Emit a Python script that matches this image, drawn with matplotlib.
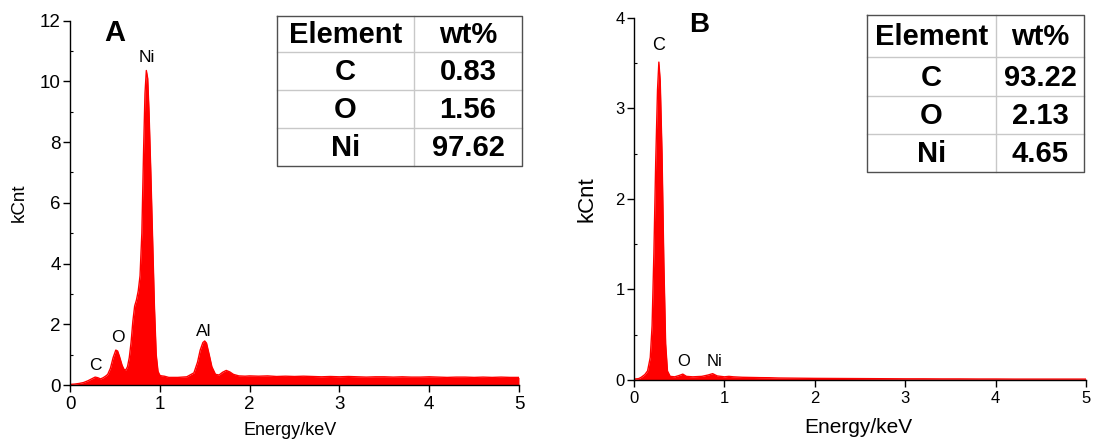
import matplotlib
matplotlib.use('Agg')
import matplotlib.pyplot as plt
from matplotlib.ticker import MultipleLocator

plt.rcParams['font.family'] = ['Liberation Sans', 'DejaVu Sans']

# spectrum A (keV, kCnt)
energy_a = [0.00, 0.05, 0.10, 0.15, 0.20, 0.24, 0.28, 0.31, 0.34, 0.37, 0.40,
            0.42, 0.45, 0.48, 0.51, 0.53, 0.55, 0.58, 0.60, 0.62, 0.64, 0.66,
            0.68, 0.70, 0.72, 0.74, 0.76, 0.78, 0.80, 0.82, 0.835, 0.85, 0.865,
            0.88, 0.90, 0.92, 0.94, 0.96, 0.98, 1.00, 1.02, 1.05, 1.10, 1.20,
            1.30, 1.38, 1.42, 1.45, 1.48, 1.50, 1.52, 1.55, 1.58, 1.62, 1.66,
            1.70, 1.74, 1.78, 1.82, 1.88, 1.95, 2.0, 2.1, 2.2, 2.3, 2.4, 2.5,
            2.6, 2.7, 2.8, 2.9, 3.0, 3.1, 3.2, 3.3, 3.4, 3.5, 3.6, 3.7, 3.8,
            3.9, 4.0, 4.1, 4.2, 4.3, 4.4, 4.5, 4.6, 4.7, 4.8, 4.9, 5.0]
counts_a = [0.02, 0.03, 0.05, 0.08, 0.14, 0.20, 0.26, 0.24, 0.20, 0.24, 0.30,
            0.35, 0.55, 0.90, 1.15, 1.12, 0.95, 0.65, 0.52, 0.49, 0.60, 0.90,
            1.40, 2.10, 2.60, 2.80, 3.10, 3.60, 5.00, 7.80, 9.60, 10.36, 10.10,
            9.00, 7.00, 4.80, 2.60, 1.00, 0.45, 0.32, 0.30, 0.29, 0.25, 0.25,
            0.27, 0.40, 0.75, 1.15, 1.40, 1.45, 1.38, 1.00, 0.60, 0.35, 0.33,
            0.42, 0.48, 0.43, 0.35, 0.30, 0.29, 0.30, 0.29, 0.30, 0.28, 0.29,
            0.28, 0.29, 0.28, 0.27, 0.28, 0.27, 0.28, 0.27, 0.26, 0.27, 0.27,
            0.26, 0.27, 0.26, 0.26, 0.27, 0.26, 0.25, 0.26, 0.26, 0.25, 0.26,
            0.25, 0.26, 0.25, 0.25]

# spectrum B (keV, kCnt)
energy_b = [0.00, 0.05, 0.08, 0.12, 0.15, 0.18, 0.20, 0.22, 0.24, 0.26, 0.275,
            0.29, 0.31, 0.33, 0.35, 0.37, 0.40, 0.45, 0.50, 0.54, 0.58, 0.65,
            0.75, 0.82, 0.87, 0.92, 1.00, 1.05, 1.10, 1.20, 1.30, 1.40, 1.50,
            1.60, 1.80, 2.00, 2.20, 2.40, 2.60, 2.80, 3.00, 3.20, 3.40, 3.60,
            3.80, 4.00, 4.20, 4.40, 4.60, 4.80, 5.00]
counts_b = [0.010, 0.015, 0.030, 0.060, 0.100, 0.250, 0.600, 1.400, 2.400,
            3.200, 3.510, 3.300, 2.500, 1.300, 0.400, 0.100, 0.040, 0.035,
            0.050, 0.065, 0.040, 0.035, 0.040, 0.055, 0.070, 0.045, 0.035,
            0.040, 0.035, 0.030, 0.028, 0.026, 0.025, 0.022, 0.020, 0.018,
            0.017, 0.016, 0.015, 0.014, 0.013, 0.013, 0.012, 0.012, 0.011,
            0.011, 0.010, 0.010, 0.010, 0.010, 0.010]

# EDS tables
elements = ['C', 'O', 'Ni']
wt_a = ['0.83', '1.56', '97.62']
wt_b = ['93.22', '2.13', '4.65']

fig = plt.figure(figsize=(10.94, 4.40), dpi=100)
W, H = 1094.0, 440.0

ax1 = fig.add_axes([70 / W, 1 - 385 / H, 449 / W, (385 - 20.7) / H])
ax2 = fig.add_axes([634 / W, 1 - 380 / H, 452 / W, (380 - 17.7) / H])


def style_axis(ax, ymax, ystep, tick_fs):
    ax.set_xlim(0, 5)
    ax.set_ylim(0, ymax)
    ax.xaxis.set_major_locator(MultipleLocator(1))
    ax.yaxis.set_major_locator(MultipleLocator(ystep))
    ax.yaxis.set_minor_locator(MultipleLocator(ystep / 2))
    for s in ['top', 'right']:
        ax.spines[s].set_visible(False)
    for s in ['left', 'bottom']:
        ax.spines[s].set_linewidth(1.0)
    ax.tick_params(axis='both', which='major', direction='out', length=5,
                   width=1.0, labelsize=tick_fs)
    ax.tick_params(axis='y', which='major', pad=1.5)
    ax.tick_params(axis='x', which='major', pad=3)
    ax.tick_params(axis='y', which='minor', direction='in', length=2.5,
                   width=0.8)


ax1.fill_between(energy_a, counts_a, 0, color='#ff0000', lw=0, zorder=1)
ax1.plot(energy_a, counts_a, color='#ff0000', lw=1.0, zorder=1)
style_axis(ax1, 12, 2, 13.5)
ax1.set_ylabel('kCnt', fontsize=13.5, va='center')
ax1.yaxis.set_label_coords(-0.112, 0.5)
ax1.set_xlabel('Energy/keV', fontsize=13, va='center')
ax1.xaxis.set_label_coords(0.49, -0.126)

ax2.fill_between(energy_b, counts_b, 0, color='#ff0000', lw=0, zorder=1)
ax2.plot(energy_b, counts_b, color='#ff0000', lw=1.0, zorder=1)
style_axis(ax2, 4, 1, 12)
ax2.set_ylabel('kCnt', fontsize=16, va='center')
ax2.yaxis.set_label_coords(-0.105, 0.5)
ax2.set_xlabel('Energy/keV', fontsize=15, va='center')
ax2.xaxis.set_label_coords(0.497, -0.131)

# panel letters and peak labels
ax1.text(0.50, 11.61, 'A', fontsize=21, fontweight='bold', ha='center', va='center')
ax1.text(0.854, 10.79, 'Ni', fontsize=12.5, ha='center', va='center')
ax1.text(0.535, 1.58, 'O', fontsize=12.5, ha='center', va='center')
ax1.text(0.284, 0.63, 'C', fontsize=12.5, ha='center', va='center')
ax1.text(1.487, 1.75, 'Al', fontsize=12.5, ha='center', va='center')

ax2.text(0.716, 3.92, 'B', fontsize=20, fontweight='bold', ha='center', va='center')
ax2.text(0.273, 3.69, 'C', fontsize=13, ha='center', va='center')
ax2.text(0.545, 0.20, 'O', fontsize=12, ha='center', va='center')
ax2.text(0.893, 0.20, 'Ni', fontsize=12, ha='center', va='center')

# overlay in pixel units for the tables
ov = fig.add_axes([0, 0, 1, 1])
ov.set_xlim(0, W)
ov.set_ylim(H, 0)
ov.axis('off')


def draw_table(xs, ys, values):
    rows = [('Element', 'wt%')] + list(zip(elements, values))
    ov.fill_between([xs[0], xs[-1]], ys[0], ys[-1], color='white', zorder=2)
    for y in ys[1:-1]:
        ov.plot([xs[0], xs[-1]], [y, y], color='#c8c8c8', lw=1.0, zorder=3)
    for x in xs[1:-1]:
        ov.plot([x, x], [ys[0], ys[-1]], color='#c8c8c8', lw=1.0, zorder=3)
    ov.plot([xs[0], xs[-1], xs[-1], xs[0], xs[0]],
            [ys[0], ys[0], ys[-1], ys[-1], ys[0]], color='#505050', lw=1.0, zorder=4)
    for r, row in enumerate(rows):
        yc = (ys[r] + ys[r + 1]) / 2
        for c, txt in enumerate(row):
            xc = (xs[c] + xs[c + 1]) / 2
            ov.text(xc, yc + 1, txt, fontsize=21, fontweight='bold',
                    ha='center', va='center', zorder=5)


draw_table([277, 414, 522], [16, 52, 90, 128, 166], wt_a)
draw_table([867, 996, 1084], [15, 57, 96, 134, 172], wt_b)

fig.savefig('out.png', dpi=100)
